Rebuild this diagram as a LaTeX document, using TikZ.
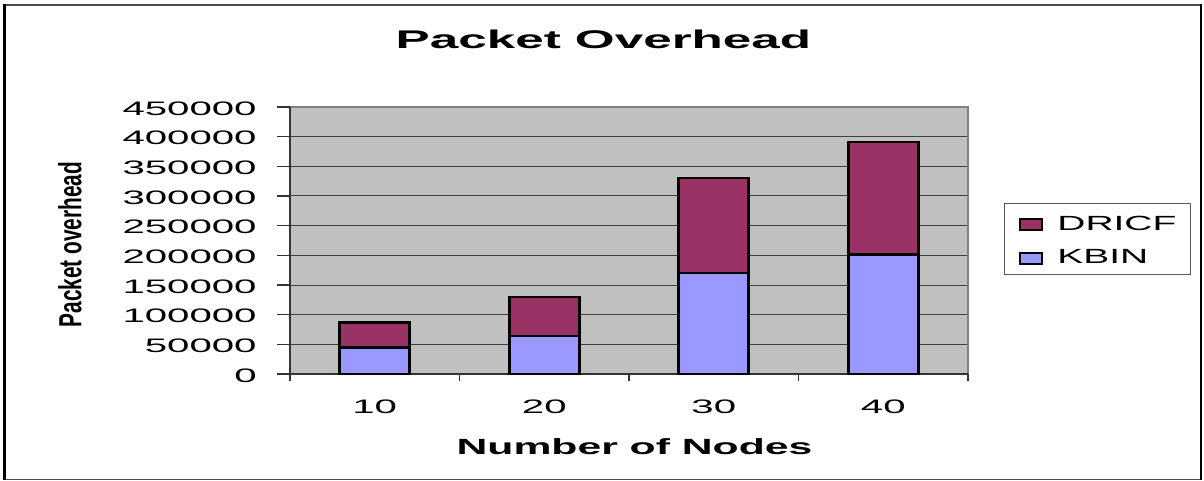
\documentclass[tikz,border=0pt]{standalone}
\usepackage{fontspec}
\setmainfont{Liberation Sans}
\definecolor{dricf}{HTML}{993366}
\definecolor{kbin}{HTML}{9999FF}
\definecolor{plotbg}{HTML}{C0C0C0}
\begin{document}
\begin{tikzpicture}[x=1pt,y=-1pt,
  ticklbl/.style={inner sep=0pt, font=\fontsize{19.5}{20}\selectfont, xscale=2.06},
  leglbl/.style={inner sep=0pt, font=\fontsize{20.5}{21}\selectfont, xscale=1.9, anchor=west},
  grid/.style={draw=black!75, line width=1pt},
  axisline/.style={draw=black!80, line width=1.6pt},
  bar/.style={draw=black, line width=2.6pt},
  legsq/.style={draw=black, line width=1.3pt}]
\useasboundingbox (0,0) rectangle (1204,481);
% outer frame
\draw[black!70, line width=1.5pt] (4,5) -- (1201,5);
\draw[black!70, line width=1.5pt] (4,479.5) -- (1201,479.5);
\draw[black, line width=3pt] (4,4.25) -- (4,480.25);
\draw[black, line width=2.5pt] (1201,4.25) -- (1201,480.25);
% plot area
\fill[plotbg] (290,107) rectangle (968,374);
\foreach \i in {1,...,8}
  \draw[grid] (290,{374-29.6667*\i}) -- (968,{374-29.6667*\i});
\draw[black!50, line width=1.5pt] (290,107) -- (968,107) -- (968,374);
\draw[axisline] (290,107) -- (290,374);
\foreach \i in {0,...,9}
  \draw[axisline] (277,{374-29.6667*\i}) -- (290,{374-29.6667*\i});
\draw[axisline] (289,374) -- (968,374);
\foreach \i in {0,...,4}
  \draw[axisline] ({290+169.5*\i},374) -- ({290+169.5*\i},380.5);
% bars
\foreach \c/\k/\t in {374.75/45/87, 544.25/64/130, 713.75/170/330, 883.25/201/391} {
  \filldraw[bar, fill=kbin] ({\c-35},374) rectangle ({\c+35},{374-0.593333*\k});
  \filldraw[bar, fill=dricf] ({\c-35},{374-0.593333*\k}) rectangle ({\c+35},{374-0.593333*\t});
}
% y tick labels
\foreach \v [count=\i from 0] in {0,50000,100000,150000,200000,250000,300000,350000,400000,450000}
  \node[ticklbl, anchor=east] (ylab\i) at (257,{375.5-29.6667*\i}) {\v};
% x tick labels
\foreach \v [count=\i from 0] in {10,20,30,40}
  \node[ticklbl] (xlab\i) at ({374.75+169.5*\i},407) {\v};
% titles
\node[inner sep=0pt, font=\bfseries\fontsize{25.6}{26}\selectfont, xscale=2.0] (title) at (603.5,39.5) {Packet Overhead};
\node[inner sep=0pt, font=\bfseries\fontsize{22}{23}\selectfont, xscale=1.94] (xtitle) at (634.5,446.5) {Number of Nodes};
\node[inner sep=0pt, font=\bfseries\fontsize{20.8}{21}\selectfont, xscale=1.54, rotate=90] (ytitle) at (70,244.5) {Packet overhead};
% legend
\draw[black!65, line width=1pt] (1004,204) rectangle (1190,274);
\filldraw[legsq, fill=dricf] (1020,219) rectangle (1042,230);
\filldraw[legsq, fill=kbin] (1020,253) rectangle (1042,264);
\node[leglbl] (legd) at (1057,223.5) {DRICF};
\node[leglbl] (legk) at (1057,256.5) {KBIN};
\end{tikzpicture}
\end{document}
